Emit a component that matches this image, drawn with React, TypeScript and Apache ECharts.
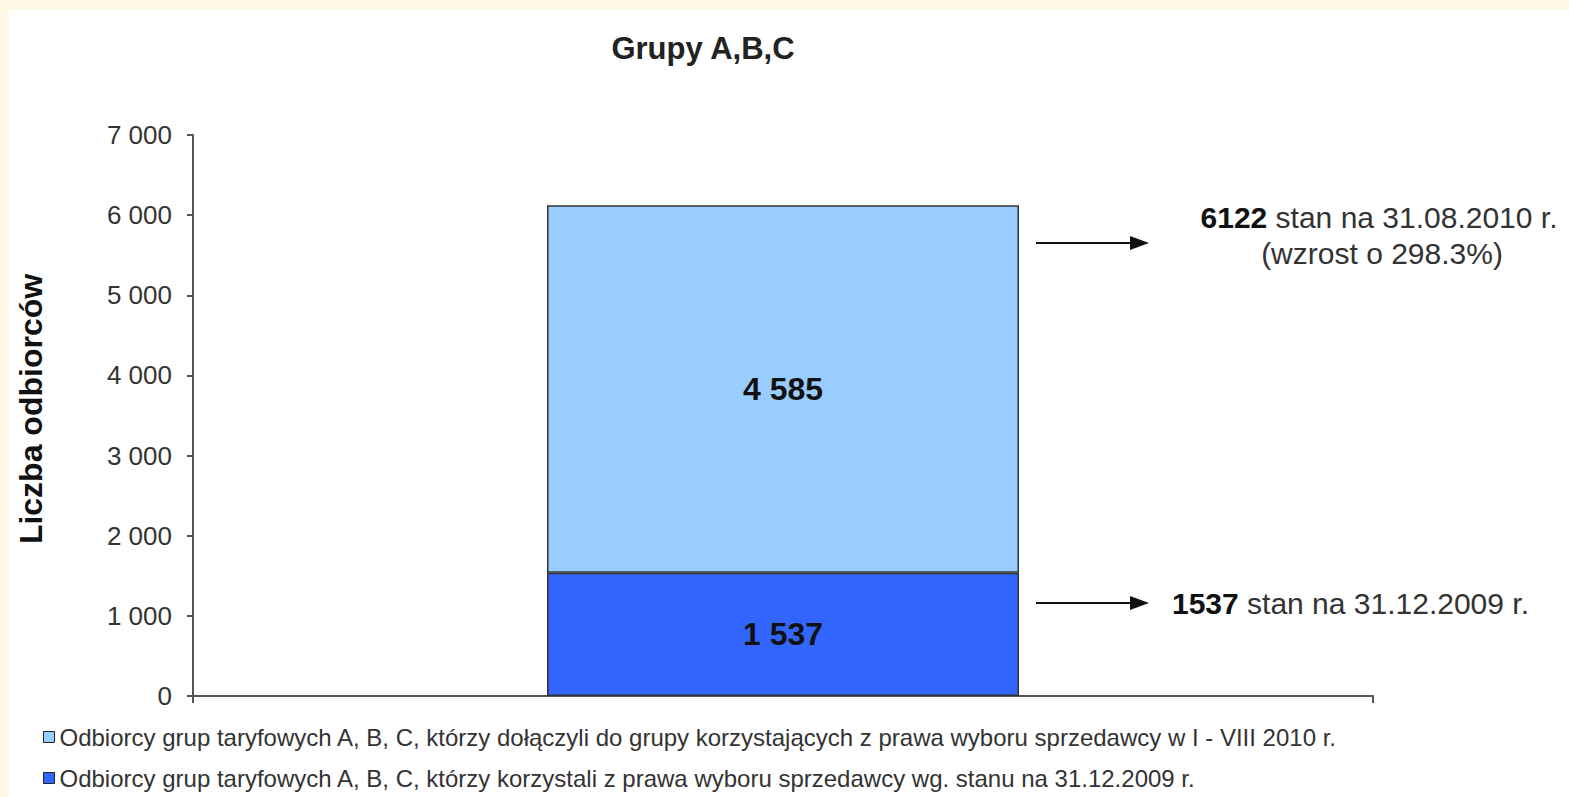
import React, { useEffect, useRef } from "react";
import * as echarts from "echarts";

const categories = ["Grupy A,B,C"];
const baseValues = [1537];
const growthValues = [4585];
const seriesNames = [
  "Odbiorcy grup taryfowych A, B, C, którzy korzystali z prawa wyboru sprzedawcy wg. stanu na 31.12.2009 r.",
  "Odbiorcy grup taryfowych A, B, C, którzy dołączyli do grupy korzystających z prawa wyboru sprzedawcy w I - VIII 2010 r.",
];
const yAxisName = "Liczba odbiorców";
const titleText = "Grupy A,B,C";

const fmt = (v: number) => String(v).replace(/\B(?=(\d{3})+(?!\d))/g, " ");

const FONT = "'Liberation Sans', Arial, sans-serif";

const legendBase = {
  orient: "vertical",
  left: 38,
  itemWidth: 11,
  itemHeight: 11,
  icon: "rect",
  itemGap: 0,
  itemStyle: { borderColor: "#222", borderWidth: 1 },
  textStyle: { fontSize: 24, color: "#333", fontFamily: FONT },
  selectedMode: false,
};

export default function App() {
  const ref = useRef<HTMLDivElement>(null);
  useEffect(() => {
    if (!ref.current) return;
    const chart = echarts.init(ref.current, undefined, { renderer: "svg" });
    chart.setOption({
      animation: false,
      backgroundColor: "#FFFAE6",
      textStyle: { fontFamily: FONT },
      title: {
        text: titleText,
        left: 698,
        top: 28,
        textAlign: "center",
        textStyle: { fontSize: 31, fontWeight: "bold", color: "#222", fontFamily: FONT },
      },
      grid: { left: 193, right: 196, top: 135, bottom: 101, containLabel: false },
      legend: [
        { ...legendBase, top: 720, data: [seriesNames[1]] },
        { ...legendBase, top: 761, data: [seriesNames[0]] },
      ],
      xAxis: {
        type: "category",
        data: categories,
        axisLine: { lineStyle: { color: "#555", width: 2 } },
        axisTick: { show: true, length: 7, lineStyle: { color: "#555", width: 2 } },
        axisLabel: { show: false },
      },
      yAxis: {
        type: "value",
        min: 0,
        max: 7000,
        interval: 1000,
        axisLine: { show: true, lineStyle: { color: "#555", width: 2 } },
        axisTick: { show: true, length: 6, lineStyle: { color: "#555", width: 2 } },
        splitLine: { show: false },
        axisLabel: {
          formatter: (v: number) => fmt(v),
          fontSize: 26,
          color: "#333",
          margin: 21,
          fontFamily: FONT,
        },
      },
      series: [
        {
          name: seriesNames[0],
          type: "bar",
          stack: "total",
          barWidth: "40%",
          data: baseValues,
          itemStyle: { color: "#3366FF", borderColor: "#333", borderWidth: 1.5 },
          label: {
            show: true,
            position: "inside",
            formatter: (p: any) => fmt(p.value),
            fontSize: 32,
            fontWeight: "bold",
            color: "#111",
            fontFamily: FONT,
          },
        },
        {
          name: seriesNames[1],
          type: "bar",
          stack: "total",
          barWidth: "40%",
          data: growthValues,
          itemStyle: { color: "#99CCFF", borderColor: "#333", borderWidth: 1.5 },
          label: {
            show: true,
            position: "inside",
            formatter: (p: any) => fmt(p.value),
            fontSize: 32,
            fontWeight: "bold",
            color: "#111",
            fontFamily: FONT,
          },
        },
      ],
      graphic: [
        {
          type: "rect",
          z: -10,
          silent: true,
          shape: { x: 9, y: 10, width: 1570, height: 800 },
          style: { fill: "#FFFFFF" },
        },
        {
          type: "text",
          x: 31,
          y: 409,
          rotation: Math.PI / 2,
          style: {
            text: yAxisName,
            fontSize: 32,
            fontWeight: "bold",
            fill: "#111",
            fontFamily: FONT,
            align: "center",
            verticalAlign: "middle",
          },
        },
        {
          type: "line",
          shape: { x1: 1036, y1: 243, x2: 1134, y2: 243 },
          style: { stroke: "#111", lineWidth: 2 },
        },
        {
          type: "polygon",
          shape: { points: [[1130, 236], [1149, 243], [1130, 250]] },
          style: { fill: "#111" },
        },
        {
          type: "line",
          shape: { x1: 1036, y1: 603, x2: 1134, y2: 603 },
          style: { stroke: "#111", lineWidth: 2 },
        },
        {
          type: "polygon",
          shape: { points: [[1130, 596], [1149, 603], [1130, 610]] },
          style: { fill: "#111" },
        },
        {
          type: "text",
          x: 1379,
          y: 217,
          style: {
            text: "{b|6122} stan na 31.08.2010 r.",
            fontSize: 30,
            fill: "#333",
            fontFamily: FONT,
            align: "center",
            verticalAlign: "middle",
            rich: { b: { fontSize: 30, fontWeight: "bold", fill: "#111", fontFamily: FONT } },
          },
        },
        {
          type: "text",
          x: 1382,
          y: 253,
          style: {
            text: "(wzrost o 298.3%)",
            fontSize: 30,
            fill: "#333",
            fontFamily: FONT,
            align: "center",
            verticalAlign: "middle",
          },
        },
        {
          type: "text",
          x: 1172,
          y: 603,
          style: {
            text: "{b|1537} stan na 31.12.2009 r.",
            fontSize: 30,
            fill: "#333",
            fontFamily: FONT,
            align: "left",
            verticalAlign: "middle",
            rich: { b: { fontSize: 30, fontWeight: "bold", fill: "#111", fontFamily: FONT } },
          },
        },
      ],
    });
    return () => chart.dispose();
  }, []);
  return (
    <div
      ref={ref}
      style={{ position: "fixed", left: 0, top: 0, width: 1569, height: 797 }}
    />
  );
}
